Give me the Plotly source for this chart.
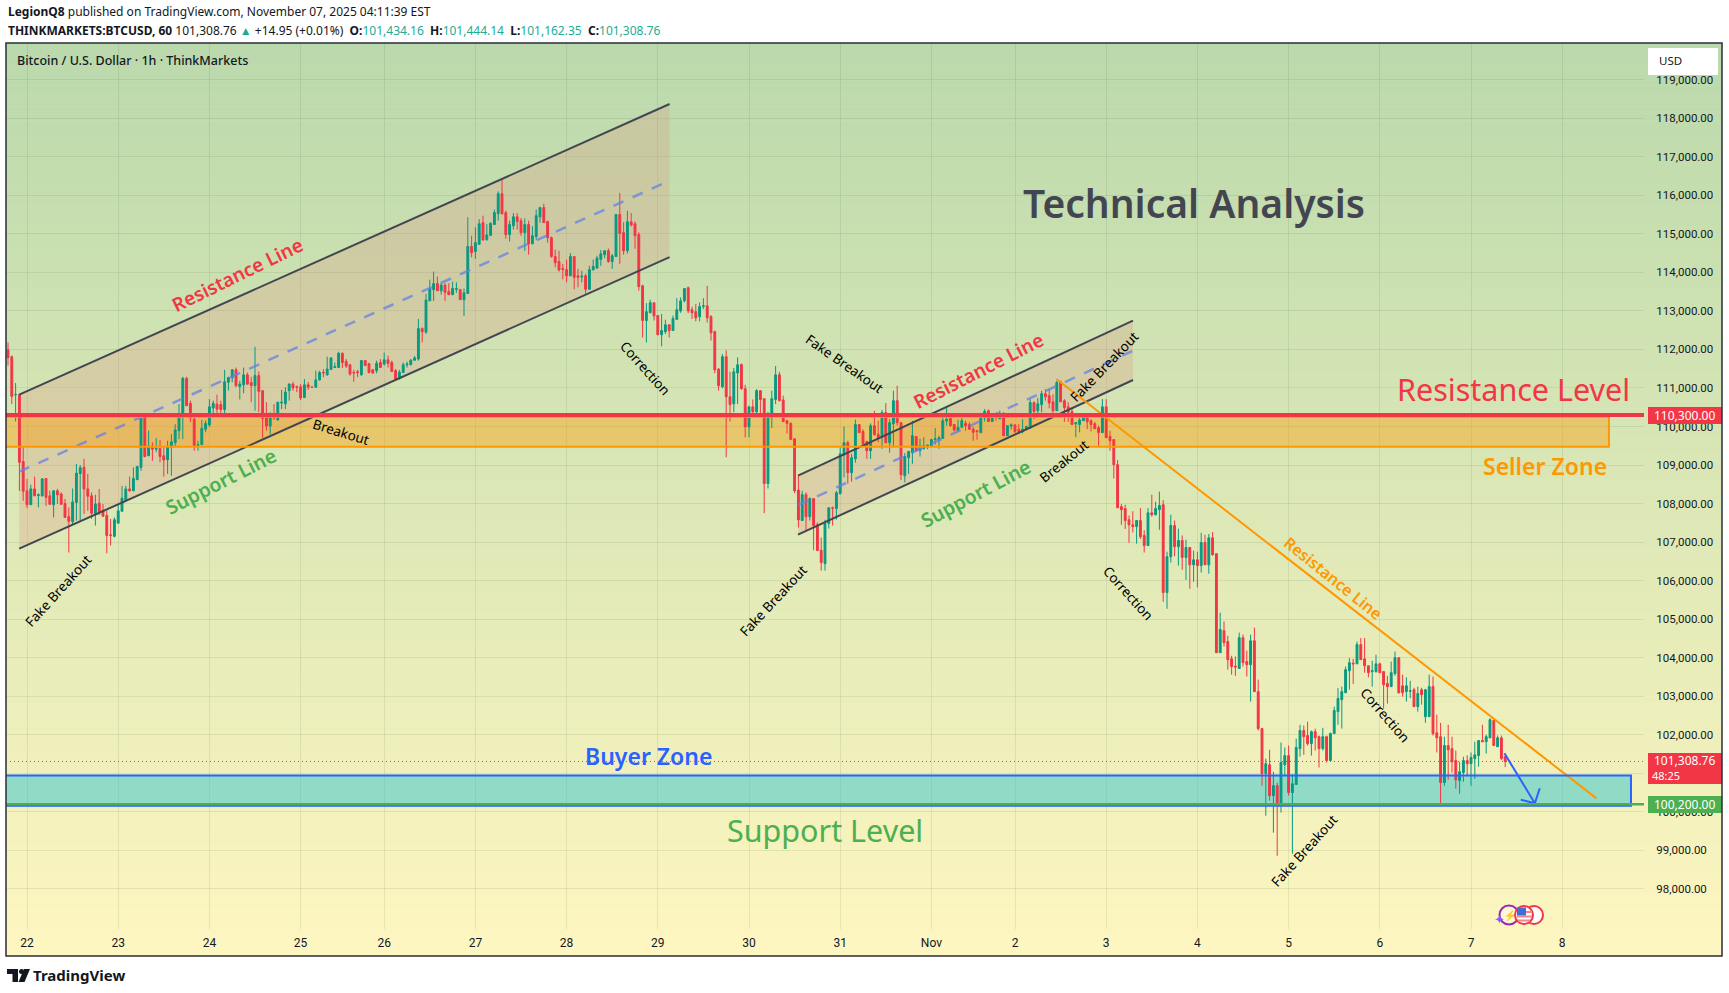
import plotly.graph_objects as go

opens = [111990,111810,110820,110830,109090,108330,107970,108380,108210,108200,
108650,108200,107970,108330,108250,108000,107660,107530,108030,108780,
108940,108380,108200,107730,108010,107830,107690,107190,107150,107490,
107800,108090,108380,108330,108620,108940,110250,109240,109490,109410,
109430,109240,109140,109460,109580,109890,110240,111250,110600,110190,
109510,109530,109930,110040,110480,110580,110570,110440,111150,111260,
111470,111040,111080,111340,111140,111060,111320,110930,110250,110010,
110320,110170,110610,110590,110930,111100,111030,111030,110750,111080,
111020,111020,111210,111400,111340,111480,111530,111530,111900,111690,
111600,111400,111420,111340,111710,111630,111470,111450,
111660,111620,111730,111660,111450,111250,111400,111600,111610,111720,
111750,112540,112450,113260,113550,113710,113520,113670,113500,113420,
113560,113550,113290,113450,114670,114540,114730,115290,114850,114960,
115240,115520,116040,115550,114980,115210,115440,115340,115030,115240,
114740,114930,115440,115680,115320,114900,114410,114280,114100,114070,
113910,114410,113910,113880,113910,113560,114070,114110,114340,114460,
114560,114280,114410,115500,115030,114560,115310,115260,114980,113650,
112750,112950,113210,112880,112380,112460,112640,112490,112780,113000,
113260,113600,113030,112980,112850,113120,113130,112850,112460,111490,
111030,111810,110770,110590,111390,111610,110980,109990,110510,110380,
110930,110720,108520,110230,110700,111340,
110690,110150,110080,109680,108350,107560,108230,107660,108130,107450,
106790,106440,107480,107890,107870,108260,109260,109580,108800,109160,
110050,109870,109610,109370,110020,109800,109720,110360,109580,110070,
110670,110100,108720,109190,109320,109740,109370,109430,109480,109500,
109660,109640,109690,110140,110210,110050,109890,
109980,110080,110050,109930,109890,109840,110220,110410,110130,110270,
110200,110340,109760,110010,110040,109920,109870,109930,109960,110620,
110410,110570,110850,110800,110640,110410,111160,110670,110510,110390,
110070,110050,110150,110300,110150,110070,109970,109840,110510,109740,
109660,109010,107920,107870,107580,107450,107400,
107560,107170,106910,107760,107710,107840,107970,105690,106620,107430,
106880,107040,106600,106860,106410,106540,106390,106990,106410,107110,
106700,104130,104700,104420,103970,103780,103720,104520,103900,103820,
104440,103120,102160,100990,101220,100420,100680,100190,101220,101460,
100500,100710,101640,102110,101980,101770,102080,101950,101640,101950,
101330,102030,102600,102910,103090,103660,103860,103840,104340,103970,
103790,103640,103640,103840,103640,103330,103250,103590,104000,103270,
103120,103130,103170,102730,103170,102470,102470,103250,102050,101950,
100760,101720,101640,101330,100810,101020,101330,101250,101380,101460,
101850,101820,101920,102370,101690,101920,101434.16]

closes = [111790,110780,110830,109070,108320,107970,108380,108200,108230,108640,
108160,107980,108330,108230,107980,107640,107540,108040,108790,108930,
108380,108190,107750,107990,107790,107670,107170,107170,107580,107810,
108140,108380,108330,108650,108960,110250,109220,109490,109410,109430,
109220,109130,109480,109600,109910,110250,111250,110540,110220,109500,
109530,109950,110080,110510,110600,110450,110440,111160,111270,111470,
111060,111100,111340,111100,111060,111320,110910,110210,110010,110250,
110220,110630,110630,110890,111100,111000,111020,110740,111080,111020,
111020,111210,111400,111390,111490,111780,111550,111900,111660,111570,
111360,111390,111400,111710,111580,111400,111390,111640,
111530,111730,111640,111430,111230,111410,111600,111620,111720,111780,
112540,112460,113280,113580,113710,113520,113670,113480,113420,113580,
113580,113290,113470,114670,114510,114770,115260,114840,114970,115270,
115550,116040,115520,114980,115240,115440,115320,115030,115240,114740,
114950,115470,115680,115290,114900,114410,114250,114060,114080,113910,
114410,113870,113870,113900,113560,114070,114150,114370,114480,114560,
114280,114430,115500,115010,114560,115310,115230,114950,113630,112750,
112980,113210,112870,112380,112490,112640,112490,112800,113030,113260,
113580,113000,112950,112820,113110,113130,112820,112430,111470,111060,
111810,110770,110570,111420,111600,110980,109990,110510,110380,110930,
110700,108520,110250,110720,111340,110670,
110130,110080,109660,108330,107580,108230,107660,108130,107430,106780,
106470,107480,107890,107880,108280,109290,109580,108800,109190,110050,
109840,109550,109370,110020,109790,109720,110360,109580,110100,110670,
110100,108750,109220,109350,109760,109370,109500,109500,109520,109660,
109680,109710,110150,110190,110020,109910,109980,
110150,110020,109930,109850,109870,110240,110390,110130,110250,110250,
110340,109760,110020,110040,109870,109870,109930,110000,110620,110390,
110590,110850,110770,110610,110410,111140,110640,110490,110370,110050,
110100,110170,110310,110120,110050,109940,109840,110510,109710,109630,
109010,107890,107840,107560,107450,107400,107560,
107140,106910,107760,107710,107870,107950,105690,106620,107430,106880,
107040,106600,106860,106410,106540,106390,106990,106410,107110,106670,
104130,104730,104390,103950,103770,103760,104520,103870,103820,104440,
103120,102160,100990,101250,100420,100680,100190,101280,101460,100500,
100730,101670,102110,101950,101770,102080,101920,101640,101950,101330,
102030,102630,102940,103120,103690,103870,103840,104340,103950,103790,
103610,103660,103840,103610,103300,103250,103610,104000,103090,103090,
103270,103140,102730,103070,103040,103170,103250,102030,101920,100760,
101720,101610,101300,100830,101040,101330,101250,101410,101480,101850,
101820,101950,102390,101720,101920,101380,101308.76]

highs = [112180,111840,111130,110840,109460,108640,108490,108700,108260,108650,
108660,108330,108350,108380,108290,108120,107900,108390,109030,109000,
109160,108770,108290,108230,108380,107990,107810,107600,107640,107990,
108460,108460,108700,108940,108980,110280,110280,109890,109590,109700,
109650,109460,109630,109800,110060,110580,111290,111290,110670,110240,
109630,110170,110150,110710,110670,110830,110670,111470,111290,111490,
111530,111190,111530,111400,111290,112070,111430,110930,110630,110370,
110580,110640,110950,111020,111120,111160,111060,111100,111230,111150,
111030,111450,111450,111490,111810,111790,111660,111940,111920,111750,
111620,111470,111470,111720,111720,111650,111490,111710,
111750,111920,111840,111710,111490,111470,111660,111680,111750,111830,
112790,112570,113440,113810,114020,113890,113740,113720,113720,113760,
113740,113570,113580,115430,114950,115170,115380,115470,115250,115300,
115630,116100,116400,115600,115340,115540,115540,115410,115400,115340,
115200,115630,115700,115780,115340,114930,114590,114560,114220,114330,
114500,114410,114090,114040,113960,114170,114330,114430,114580,114580,
114620,114480,115500,116060,115300,115600,115540,115320,115040,113680,
113200,113290,113210,112880,112920,112770,112640,112880,113330,113350,
113590,113630,113110,113180,113220,113330,113650,112890,112490,111510,
111880,111980,111420,111520,111790,111630,111080,110540,110700,110970,
110930,110720,110380,110930,111570,111420,
110800,110170,110110,109690,108720,108330,108290,108160,108130,107510,
107120,107580,107900,107920,108330,109460,110000,109630,109290,110180,
110060,109930,109630,110080,110410,110150,110430,110610,110190,110930,
111060,110110,109310,109370,110150,109740,109680,109720,109530,109680,
109960,109760,110240,110500,110240,110060,110180,
110220,110150,110110,109990,109910,110280,110450,110440,110280,110280,
110410,110370,110020,110080,110060,110060,110190,110020,110710,110650,
110740,110930,110970,110970,110840,111190,111190,110710,110630,110500,
110100,110240,110320,110320,110190,110120,110020,110710,110710,109890,
109660,109130,107990,107970,107690,107800,107560,
107880,107310,107880,108230,108050,108310,108090,106750,107710,107560,
107350,107170,107060,106860,106780,106750,107240,107190,107210,107260,
106700,105170,104940,104570,104050,104030,104650,104600,104180,104600,
104780,103430,102180,101380,101610,101040,100760,101800,101670,101720,
100980,101900,102260,102240,102340,102110,102160,101980,102180,101980,
102060,102730,103210,103250,103770,103990,103970,104420,104510,104510,
103790,103920,104080,103870,103640,103530,103900,104160,104000,103560,
103490,103400,103220,103250,103220,103190,103560,103510,102520,102310,
101950,102260,101950,101590,101300,101430,101470,101540,101820,101850,
102260,102000,102430,102390,101980,101980,101444.14]

lows = [111580,110580,110130,108330,108070,107880,107970,108200,107900,108180,
107940,107980,107640,107990,107970,107640,106730,107470,107560,107560,
107730,107810,107600,107430,107700,107670,106710,106910,107120,107490,
107800,108070,108310,108330,108620,108850,109200,109240,109110,109330,
109070,108700,108770,108720,109480,109670,109670,110540,110110,109370,
109370,109530,109850,109990,110240,110280,110320,110320,110930,111150,
111020,110700,110860,111080,110630,110410,110370,109700,109890,109790,
110170,110150,110450,110450,110670,110930,110890,110690,110740,110950,
111020,111000,111190,111280,111320,111470,111520,111520,111520,111520,
111320,111160,111280,111320,111580,111380,111360,111380,
111520,111580,111530,111410,111230,111220,111390,111530,111580,111710,
111710,112180,112400,113260,113260,113520,113420,113260,113420,113420,
113470,113290,112870,113450,114390,114350,114720,114820,114820,114940,
115240,115340,115500,114870,114800,115110,115110,114950,114560,114460,
114730,114850,115290,115290,114770,114380,114130,114020,113820,113740,
113910,113560,113610,113740,113440,113560,114040,114090,114170,114370,
114250,114090,114410,114220,114460,114490,115190,114610,113520,112310,
112180,112950,112750,112380,112080,112400,112310,112490,112770,112950,
113220,112940,112790,112730,112730,113050,112700,112230,111380,110930,
110990,109200,110130,110370,110580,110950,109720,109720,110250,110250,
110320,107750,108390,109960,110580,110650,
110110,109820,109660,108270,107380,107560,107310,107560,106790,106780,
106260,106260,107350,107430,107580,108230,108680,108520,108570,109060,
109840,109500,109160,109160,109760,109590,109420,109560,109320,109500,
110020,108610,108550,108770,109030,109350,109220,109400,109410,109500,
109530,109420,109680,110020,110000,109870,109850,
109960,109890,109910,109630,109660,109840,110130,110130,110130,110150,
110190,109760,109760,109920,109830,109840,109820,109920,109940,110190,
110220,110370,110670,110470,110320,110410,110640,110120,110120,110050,
109720,109850,110150,109930,109870,109940,109460,109840,109700,109370,
108650,107890,107450,107340,106980,107250,106960,
107080,106730,106910,107660,107690,107320,105450,105270,106470,106630,
106390,106280,106020,105790,105970,105820,106210,106410,106180,106650,
104130,104130,104290,103690,103560,103530,103720,103770,103510,102860,
103120,102110,100680,99900,100290,99460,98860,99980,100940,100420,
98910,100710,101430,101480,101720,101460,101590,101150,101590,101280,
101330,102020,102260,102160,103090,103170,103320,103840,103950,103610,
103490,103250,103610,103610,102680,102810,103250,103530,103070,102990,
102860,102950,102730,102600,102780,102310,102470,101980,101540,100200,
100680,100830,101020,100600,100470,100780,100940,100680,100860,101170,
101820,101510,101920,101720,101690,101350,101162.35]

day_ticks = [5,29,53,77,99,123,147,171,195,219,243,265,289,313,337,361,385,409]
day_labels = ["22","23","24","25","26","27","28","29","30","31","Nov","2","3","4","5","6","7","8"]
price_ticks = list(range(98000, 120000, 1000))

resistance_level = 110300
support_level = 100200
last_price = 101308.76

channel1_x = [2.95, 174.1]
channel1_upper = [110825, 118368]
channel1_lower = [106829, 114396]
channel1_mid = [108827, 116378]
channel2_x = [207.9, 296.05]
channel2_upper = [108723, 112745]
channel2_lower = [107192, 111206]
channel2_mid = [107957, 111967]
downtrend_x = [275.9, 418.0]
downtrend_y = [111232, 100350]
seller_zone = [109475, 110250, 421.3]
buyer_zone = [100160, 100940, 427.1]
arrow_x = [393.8, 401.8, None, 398.1, 401.8, 403.1]
arrow_y = [101519, 100224, None, 100315, 100224, 100611]

L, R, T, B = 6, 1644, 43, 929
FW, FH = 1729, 993
def px(x): return (x - L) / (R - L)
def py(y): return (B - y) / (B - T)

RED, GREEN, ORANGE, BLUE, LGREEN = "#F23645", "#089981", "#FF9800", "#2962FF", "#4CAF50"
DARK, FONT = "#131722", "Noto Sans, Open Sans, sans-serif"

fig = go.Figure()
fig.add_trace(go.Candlestick(
    x=list(range(len(opens))), open=opens, high=highs, low=lows, close=closes,
    whiskerwidth=0,
    increasing=dict(line=dict(color=GREEN, width=1), fillcolor=GREEN),
    decreasing=dict(line=dict(color=RED, width=1), fillcolor=RED),
    hoverinfo="skip"))

def add_line(x, y, color, width, dash="solid"):
    fig.add_trace(go.Scatter(x=x, y=y, mode="lines", hoverinfo="skip",
                             line=dict(color=color, width=width, dash=dash)))

for cx, mid in [(channel1_x, channel1_mid), (channel2_x, channel2_mid)]:
    add_line(cx, mid, "rgba(100,130,230,0.75)", 2.5, "11px,10px")
for cx, up, lo in [(channel1_x, channel1_upper, channel1_lower), (channel2_x, channel2_upper, channel2_lower)]:
    add_line(cx, up, "#434651", 2)
    add_line(cx, lo, "#434651", 2)
add_line(downtrend_x, downtrend_y, ORANGE, 2)
add_line(arrow_x, arrow_y, BLUE, 2)

shapes = []
# background gradient, pane and scale
bands = 130
top_c, bot_c = (186, 217, 172), (254, 246, 192)
for k in range(bands):
    t = k / (bands - 1)
    col = tuple(round(a + (b - a) * t) for a, b in zip(top_c, bot_c))
    y0 = 43 + (956 - 43) * k / bands
    y1 = 43 + (956 - 43) * (k + 1) / bands + 0.6
    shapes.append(dict(type="rect", xref="paper", yref="paper", x0=px(6), x1=px(1722),
                       y0=py(y1), y1=py(y0), fillcolor=f"rgb{col}", line=dict(width=0), layer="below"))

# channels (tinted area under the candles)
for cx, up, lo in [(channel1_x, channel1_upper, channel1_lower), (channel2_x, channel2_upper, channel2_lower)]:
    path = f"M {cx[0]},{up[0]} L {cx[1]},{up[1]} L {cx[1]},{lo[1]} L {cx[0]},{lo[0]} Z"
    shapes.append(dict(type="path", xref="x", yref="y", path=path, fillcolor="rgba(218,156,134,0.3)",
                       line=dict(width=0), layer="between"))

# zones
shapes.append(dict(type="rect", xref="x", yref="y", x0=-10, x1=seller_zone[2], y0=seller_zone[0], y1=seller_zone[1],
                   fillcolor="rgba(255,152,0,0.4)", line=dict(width=0), layer="between"))
shapes.append(dict(type="rect", xref="x", yref="y", x0=-10, x1=buyer_zone[2], y0=buyer_zone[0], y1=buyer_zone[1],
                   fillcolor="rgba(0,188,212,0.4)", line=dict(width=0), layer="between"))
shapes.append(dict(type="rect", xref="x", yref="y", x0=-10, x1=seller_zone[2], y0=seller_zone[0], y1=seller_zone[1],
                   line=dict(width=2, color=ORANGE)))
shapes.append(dict(type="rect", xref="x", yref="y", x0=-10, x1=buyer_zone[2], y0=buyer_zone[0], y1=buyer_zone[1],
                   line=dict(width=2, color=BLUE)))
# horizontal levels
shapes.append(dict(type="line", xref="paper", yref="y", x0=0, x1=1, y0=resistance_level, y1=resistance_level,
                   line=dict(color=RED, width=4)))
shapes.append(dict(type="line", xref="paper", yref="y", x0=0, x1=1, y0=support_level, y1=support_level,
                   line=dict(color=LGREEN, width=2.5)))
shapes.append(dict(type="line", xref="paper", yref="y", x0=0, x1=1, y0=last_price, y1=last_price,
                   line=dict(color=RED, width=1, dash="1px,3px")))

def box(x0, y0, x1, y1, fill, line=None, lw=0):
    shapes.append(dict(type="rect", xref="paper", yref="paper", x0=px(x0), x1=px(x1), y0=py(y1), y1=py(y0),
                       fillcolor=fill, line=dict(width=lw, color=line or fill)))

def circle(cx, cy, r, fill, line=None, lw=0):
    shapes.append(dict(type="circle", xref="paper", yref="paper", x0=px(cx-r), x1=px(cx+r), y0=py(cy+r), y1=py(cy-r),
                       fillcolor=fill, line=dict(width=lw, color=line or fill)))

# USD button and price tags
box(1648, 48, 1718, 75, "#FFFFFF")
box(1648, 407, 1722, 424, RED)
box(1648, 753, 1722, 784, RED)
box(1648, 796, 1722, 813, LGREEN)
# calendar icons
circle(1509, 915, 9.5, "rgba(255,255,255,0.35)", "#9C27B0", 2)
circle(1534, 915, 9, "#FFFFFF", RED, 2)
circle(1524, 915, 9, "#FFFFFF", RED, 2)
box(1517, 911, 1532, 913, "#F7838E")
box(1517, 915.5, 1532, 917.5, "#F7838E")
box(1518, 919.5, 1530, 921.5, "#F7838E")
box(1517, 907.5, 1526, 915.5, "#3D6FD8")
# frame
shapes.append(dict(type="rect", xref="paper", yref="paper", x0=px(6), x1=px(1722), y0=py(956), y1=py(43),
                   line=dict(color="#2A2E39", width=1.5)))
# logo
def polygon(pts, fill):
    d = "M " + " L ".join(f"{px(a)},{py(b)}" for a, b in pts) + " Z"
    shapes.append(dict(type="path", xref="paper", yref="paper", path=d, fillcolor=fill, line=dict(width=0)))
polygon([(7, 969), (18, 969), (18, 982), (12.5, 982), (12.5, 974), (7, 974)], DARK)
circle(21.5, 971.5, 2.5, DARK)
polygon([(24, 969), (30, 969), (24.5, 982), (18.5, 982)], DARK)

ann = []
def label(text, x, y, size, color=DARK, angle=0, anchor="center", weight=None):
    ann.append(dict(text=text, xref="paper", yref="paper", x=px(x), y=py(y), xanchor=anchor, yanchor="middle",
                    showarrow=False, textangle=angle, font=dict(family=FONT, size=size, color=color, weight=weight) if weight
                    else dict(family=FONT, size=size, color=color)))

teal = lambda s: f'<span style="color:#22AB94">{s}</span>'
sp = "&nbsp;&nbsp;"
label('<b>LegionQ8</b> published on TradingView.com, November 07, 2025 04:11:39 EST', 6, 12, 12, anchor="left")
label('<b>THINKMARKETS:BTCUSD, 60</b> 101,308.76 ' + teal('▲') + ' +14.95 (+0.01%)' + sp + '<b>O:</b>' + teal('101,434.16') +
      sp + '<b>H:</b>' + teal('101,444.14') + sp + '<b>L:</b>' + teal('101,162.35') + sp + '<b>C:</b>' + teal('101,308.76'),
      6, 30, 12, anchor="left")
label('Bitcoin / U.S. Dollar · 1h · ThinkMarkets', 15, 60, 12.5, anchor="left", weight=500)
label('USD', 1657, 60.5, 11.5, anchor="left")
label('110,300.00', 1685, 415.5, 12, "#FFFFFF")
label('101,308.76', 1685, 761, 12, "#FFFFFF")
label('48:25', 1666, 775, 11, "#FFFFFF")
label('100,200.00', 1685, 804.5, 12, "#FFFFFF")
label('✦', 1499, 919, 13, "#8B5CF6")
label('⚡', 1510, 915, 10, "#8B5CF6")
label('<b>TradingView</b>', 31, 975, 15, anchor="left")

label('Technical Analysis', 1194, 203, 39, "#434651", weight=600)
label('Resistance Level', 1513, 389, 30.5, RED)
label('Seller Zone', 1545, 466, 23, ORANGE, weight=600)
label('Buyer Zone', 648, 756, 23, BLUE, weight=600)
label('Support Level', 825, 830, 30.5, LGREEN)

label('Resistance Line', 237, 275, 19, RED, -26, weight=600)
label('Support Line', 220, 481, 19.5, LGREEN, -27, weight=600)
label('Resistance Line', 978, 371, 19, RED, -27, weight=600)
label('Support Line', 975, 493, 19.5, LGREEN, -28, weight=600)
label('Resistance Line', 1333, 578, 16, ORANGE, 39, weight=600)
for text, x, y, a in [
    ('Fake Breakout', 58, 591, -48), ('Breakout', 341, 432, 17), ('Correction', 645, 368, 48),
    ('Fake Breakout', 845, 364, 35), ('Fake Breakout', 1104, 367, -46), ('Fake Breakout', 773, 601, -47),
    ('Breakout', 1064, 461, -39), ('Correction', 1128, 593, 48), ('Correction', 1385, 715, 49),
    ('Fake Breakout', 1304, 851, -48)]:
    label(text, x, y, 13.5, "#000000", a)

fig.update_layout(
    width=FW, height=FH, margin=dict(l=L, r=FW - R, t=T, b=FH - B, pad=0),
    paper_bgcolor="#FFFFFF", plot_bgcolor="rgba(0,0,0,0)", showlegend=False, hovermode=False,
    boxgap=0.3, shapes=shapes, annotations=ann, dragmode=False,
    font=dict(family="Roboto, sans-serif", size=12, color=DARK),
    xaxis=dict(range=[(L - 8) / 3.8, (R - 8) / 3.8], tickmode="array", tickvals=day_ticks, ticktext=day_labels,
               showgrid=True, gridcolor="rgba(50,80,50,0.10)", gridwidth=1, zeroline=False, showline=False,
               ticks="outside", ticklen=3, tickcolor="rgba(0,0,0,0)", rangeslider=dict(visible=False),
               tickfont=dict(family="Roboto, sans-serif", size=12, color=DARK)),
    yaxis=dict(range=[118000 - (929 - 118.2) * 25.95, 118000 + (118.2 - 43) * 25.95], side="right",
               tickmode="array", tickvals=price_ticks, tickformat=",.2f",
               showgrid=True, gridcolor="rgba(50,80,50,0.10)", gridwidth=1, zeroline=False, showline=False,
               ticks="outside", ticklen=9, tickcolor="rgba(0,0,0,0)",
               tickfont=dict(family="Roboto, sans-serif", size=11.5, color=DARK)),
)

fig.write_html("out.html", config=dict(displayModeBar=False),
               post_script="document.body.style.margin='0';document.body.style.overflow='hidden';")
